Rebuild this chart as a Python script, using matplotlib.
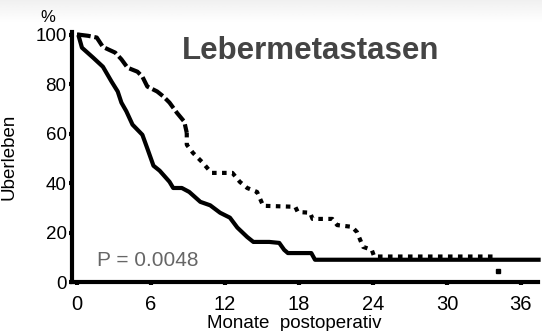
import numpy as np
import matplotlib.pyplot as plt

plt.rcParams['font.family'] = ['Liberation Sans', 'DejaVu Sans']

# Monate / Ueberleben (%) - lower curve (solid)
solid_x = [0, 0.1, 0.4, 1.3, 2.1, 2.8, 3.3, 3.6, 4.0, 4.5, 5.3, 5.7, 6.2, 6.7, 7.5, 7.8,
           8.5, 9.1, 10.0, 10.8, 11.6, 12.4, 13.0, 13.8, 14.3, 15.6, 16.4, 16.8, 17.1,
           19.0, 19.3, 37.6]
solid_y = [100, 100, 94.7, 90.7, 87, 81, 77, 72.5, 69, 63.6, 59.5, 54, 47, 45, 40.5, 38,
           38, 36.4, 32.4, 31, 28, 26, 22, 18.2, 16.2, 16.2, 15.8, 13, 11.7,
           11.7, 9, 9]

# upper curve (dotted): early part and late part
dot_x_early = [0.1, 0.9, 1.6, 2.1, 3.1, 3.6, 4.1, 4.9, 5.3, 5.7, 6.5, 7.0, 7.5, 8.1, 8.7,
               8.9]
dot_y_early = [100, 99.5, 98.8, 95, 92.7, 90, 86.6, 85, 83, 79, 77, 75, 72.5, 68.4, 64.8,
               60.3]
dot_x_late = [8.9, 8.9, 9.4, 10.2, 10.9, 12.6, 13.2, 13.8, 14.6, 15.1, 17.7, 17.9, 18.9,
              19.1, 20.7, 21.1, 22.3, 22.7, 22.9, 23.2, 23.9, 24.1, 34.1]
dot_y_late = [60.3, 55.5, 52.2, 48.2, 44.1, 44.1, 40.5, 38, 36.4, 30.8, 30.4, 28.3, 28,
              25.5, 25.5, 23, 22.3, 20.2, 17.8, 14.2, 13, 10.3, 10.3]
last_x = [34.1]
last_y = [4.5]

xticks = [0, 6, 12, 18, 24, 30, 36]
yticks = [0, 20, 40, 60, 80, 100]

fig = plt.figure(figsize=(5.42, 3.31), dpi=100)

# light grey band at the top
bg = fig.add_axes([0, 0.93, 1, 0.07], zorder=-1)
grad = np.linspace(0.94, 1.0, 50).reshape(-1, 1)
bg.imshow(grad, aspect='auto', cmap='gray', vmin=0, vmax=1, extent=[0, 1, 0, 1])
bg.axis('off')

ax = fig.add_axes([0.133, 0.148, 0.860, 0.755])
ax.plot(solid_x, solid_y, color='black', lw=3, solid_capstyle='butt', clip_on=False)
ax.plot(dot_x_early, dot_y_early, color='black', lw=3, linestyle=(0, (3, 0.9)),
        dash_capstyle='butt', clip_on=False)
ax.plot(dot_x_late, dot_y_late, color='black', lw=3, linestyle=(0, (1.1, 1.3)),
        dash_capstyle='butt', clip_on=False)
ax.plot(last_x, last_y, 's', color='black', ms=3.5)

ax.set_xlim(-0.4, 37.4)
ax.set_ylim(0, 101)
ax.set_xticks(xticks)
ax.set_yticks(yticks)
ax.tick_params(axis='x', direction='out', length=2, width=3, pad=7, labelsize=14.5)
ax.tick_params(axis='y', direction='out', length=2, width=3, pad=2, labelsize=13.5)
for s in ['top', 'right']:
    ax.spines[s].set_visible(False)
for s in ['left', 'bottom']:
    ax.spines[s].set_linewidth(3)

ax.text(-2.4, 104, '%', fontsize=12, ha='center', va='bottom')
ax.set_ylabel('Überleben', fontsize=13.5)
ax.yaxis.set_label_coords(-0.118, 0.5)
ax.text(17.6, -16.6, 'Monate  postoperativ', fontsize=13.5, ha='center', va='center')
ax.text(18.95, 93.5, 'Lebermetastasen', fontsize=22.5, fontweight='bold', color='#444444',
        ha='center', va='center')
ax.text(1.6, 8.5, 'P = 0.0048', fontsize=15, color='#666666', ha='left', va='center')

fig.savefig('out.png', dpi=100)
